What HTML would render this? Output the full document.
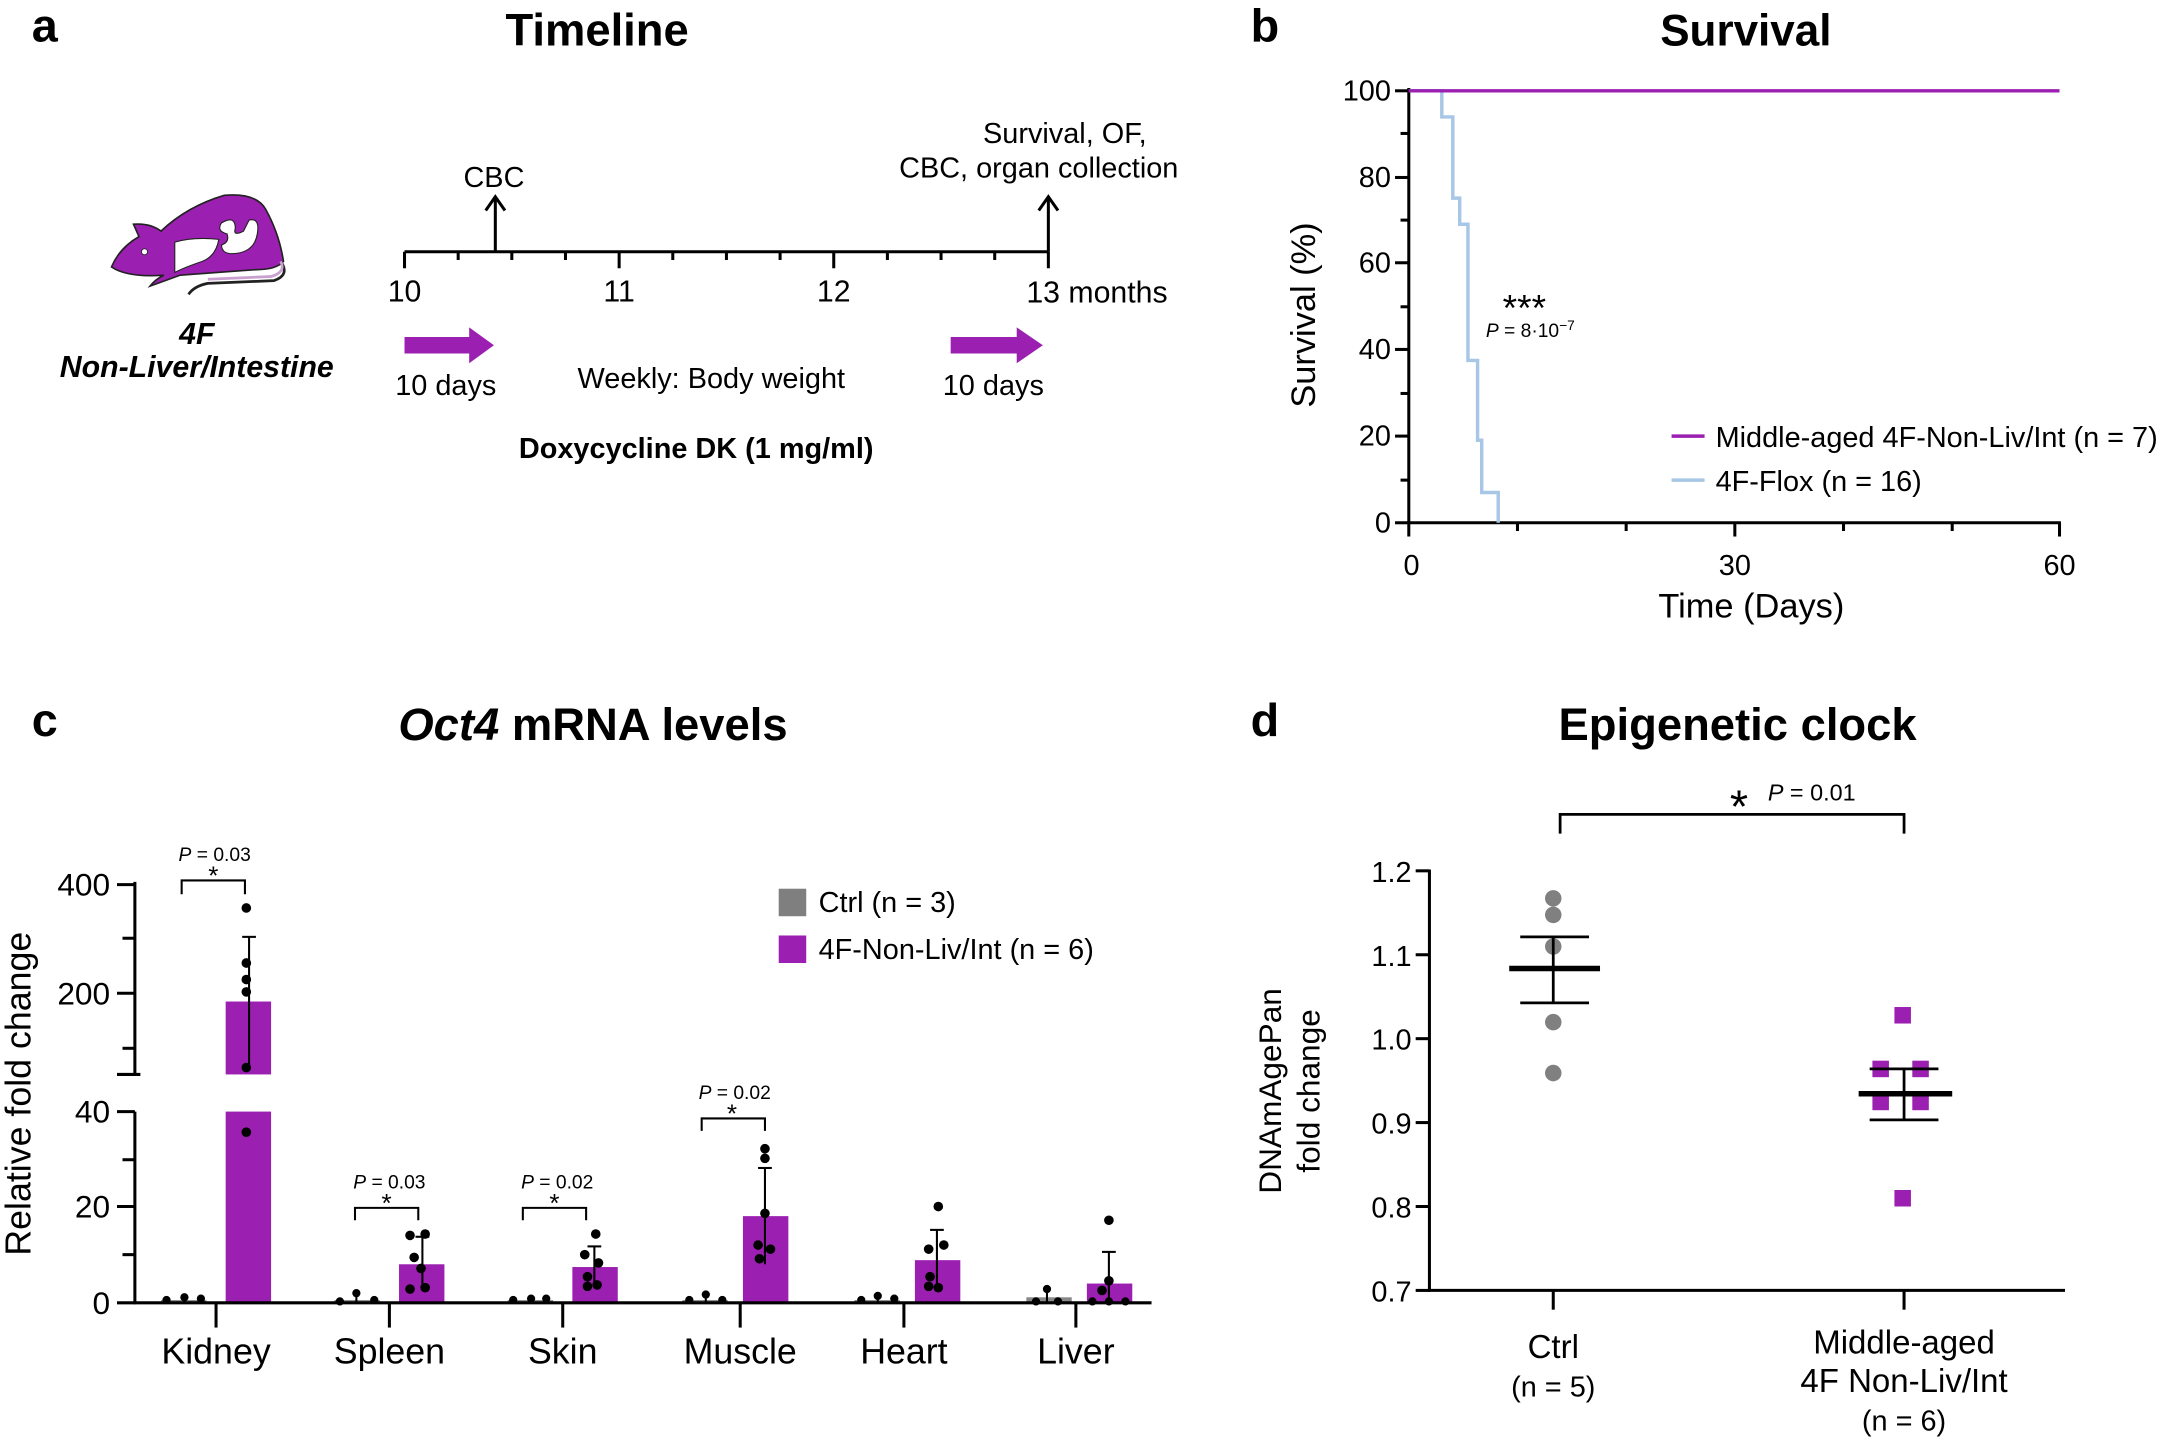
<!DOCTYPE html>
<html><head><meta charset="utf-8"><style>html,body{margin:0;padding:0;background:#fff}svg{display:block}</style></head>
<body>
<svg xmlns="http://www.w3.org/2000/svg" width="2160" height="1439" viewBox="0 0 1568 1046" font-family="Liberation Sans, Arial, sans-serif">
<rect width="1568" height="1046" fill="#fff"/>
<!-- Panel a -->
<text x="22" y="30" font-size="34" font-weight="bold">a</text>
<text x="433" y="33" font-size="33" font-weight="bold" text-anchor="middle">Timeline</text>
<!-- mouse -->
<path d="M80,194 Q86,180 100,172 L96,163 Q108,162 116,168 Q135,150 162,142 Q185,140 192,152 Q202,170 205,190 Q200,196 185,196 L130,200 L108,208 Q112,203 118,200 Q92,202 80,194 Z" fill="#9b1fb0" stroke="#222" stroke-width="1.2"/>
<path d="M203,190 Q210,200 198,204 L150,206 Q140,208 136,214" fill="none" stroke="#222" stroke-width="2"/>
<path d="M203,190 Q207,198 196,201 L150,203" fill="none" stroke="#c9a0d0" stroke-width="2"/>
<path d="M126,176 Q140,172 158,174 Q156,186 146,190 Q134,194 126,198 Z" fill="#fff" stroke="#222" stroke-width="0.8"/>
<path d="M160,162 Q170,156 170,166 Q168,172 176,168 L180,160 Q188,158 186,170 Q184,182 172,184 Q160,186 160,178 Q166,176 164,170 Q156,168 160,162 Z" fill="#fff" stroke="#222" stroke-width="0.8"/>
<circle cx="104" cy="183" r="2.2" fill="#fff" stroke="#222" stroke-width="0.6"/>
<text x="142" y="250" font-size="22" font-weight="bold" font-style="italic" text-anchor="middle">4F</text>
<text x="142" y="274" font-size="22" font-weight="bold" font-style="italic" text-anchor="middle">Non-Liver/Intestine</text>
<!-- timeline axis -->
<g stroke="#000" stroke-width="2.2">
<line x1="293" y1="183" x2="761" y2="183"/>
<line x1="293" y1="183" x2="293" y2="195"/><line x1="449" y1="183" x2="449" y2="195"/><line x1="605" y1="183" x2="605" y2="195"/><line x1="761" y1="183" x2="761" y2="195"/>
<line x1="332" y1="183" x2="332" y2="189"/><line x1="371" y1="183" x2="371" y2="189"/><line x1="410" y1="183" x2="410" y2="189"/>
<line x1="488" y1="183" x2="488" y2="189"/><line x1="527" y1="183" x2="527" y2="189"/><line x1="566" y1="183" x2="566" y2="189"/>
<line x1="644" y1="183" x2="644" y2="189"/><line x1="683" y1="183" x2="683" y2="189"/><line x1="722" y1="183" x2="722" y2="189"/>
<line x1="359" y1="183" x2="359" y2="145"/><polyline points="352,153 359,143 366,153" fill="none"/>
<line x1="761" y1="183" x2="761" y2="145"/><polyline points="754,153 761,143 768,153" fill="none"/>
</g>
<g font-size="21">
<text x="358" y="136" text-anchor="middle">CBC</text>
<text x="773" y="104" text-anchor="middle">Survival, OF,</text>
<text x="754" y="129" text-anchor="middle">CBC, organ collection</text>
<text x="293" y="219" text-anchor="middle" font-size="22">10</text>
<text x="449" y="219" text-anchor="middle" font-size="22">11</text>
<text x="605" y="219" text-anchor="middle" font-size="22">12</text>
<text x="745" y="220" font-size="22">13 months</text>
<text x="323" y="287" text-anchor="middle">10 days</text>
<text x="721" y="287" text-anchor="middle">10 days</text>
<text x="516" y="282" text-anchor="middle">Weekly: Body weight</text>
<text x="505" y="333" text-anchor="middle" font-weight="bold">Doxycycline DK (1 mg/ml)</text>
</g>
<path d="M293,245 L340,245 L340,238 L358,251 L340,264 L340,257 L293,257 Z" fill="#9b1fb0"/>
<path d="M690,245 L738,245 L738,238 L757,251 L738,264 L738,257 L690,257 Z" fill="#9b1fb0"/>

<!-- Panel b -->
<text x="908" y="30" font-size="34" font-weight="bold">b</text>
<text x="1268" y="33" font-size="32" font-weight="bold" text-anchor="middle">Survival</text>
<g stroke="#000" stroke-width="2.2">
<line x1="1023" y1="64" x2="1023" y2="381"/>
<line x1="1022" y1="380" x2="1497" y2="380"/>
<line x1="1013" y1="66" x2="1023" y2="66"/><line x1="1013" y1="129" x2="1023" y2="129"/><line x1="1013" y1="191" x2="1023" y2="191"/><line x1="1013" y1="254" x2="1023" y2="254"/><line x1="1013" y1="317" x2="1023" y2="317"/><line x1="1013" y1="380" x2="1023" y2="380"/>
<line x1="1017" y1="97" x2="1023" y2="97"/><line x1="1017" y1="160" x2="1023" y2="160"/><line x1="1017" y1="223" x2="1023" y2="223"/><line x1="1017" y1="286" x2="1023" y2="286"/><line x1="1017" y1="349" x2="1023" y2="349"/>
<line x1="1023" y1="380" x2="1023" y2="390"/><line x1="1260" y1="380" x2="1260" y2="390"/><line x1="1496" y1="380" x2="1496" y2="390"/>
<line x1="1102" y1="380" x2="1102" y2="386"/><line x1="1181" y1="380" x2="1181" y2="386"/><line x1="1339" y1="380" x2="1339" y2="386"/><line x1="1418" y1="380" x2="1418" y2="386"/>
</g>
<g font-size="21" text-anchor="end">
<text x="1010" y="73">100</text><text x="1010" y="136">80</text><text x="1010" y="198">60</text><text x="1010" y="261">40</text><text x="1010" y="324">20</text><text x="1010" y="387">0</text>
</g>
<g font-size="21" text-anchor="middle">
<text x="1025" y="418">0</text><text x="1260" y="418">30</text><text x="1496" y="418">60</text>
</g>
<text x="1272" y="449" font-size="25" text-anchor="middle">Time (Days)</text>
<text transform="translate(955,229) rotate(-90)" font-size="25" text-anchor="middle">Survival (%)</text>
<polyline points="1023,66 1047,66 1047,85 1055,85 1055,144 1060,144 1060,163 1066,163 1066,262 1073,262 1073,320 1076,320 1076,358 1088,358 1088,380" fill="none" stroke="#a8c6e6" stroke-width="2.5"/>
<line x1="1023" y1="66" x2="1496" y2="66" stroke="#9b1fb0" stroke-width="2.5"/>
<text x="1107" y="233" font-size="27" text-anchor="middle">***</text>
<text x="1079" y="245" font-size="14"><tspan font-style="italic">P</tspan> = 8·10<tspan font-size="10" dy="-5">−7</tspan></text>
<line x1="1214" y1="317" x2="1238" y2="317" stroke="#9b1fb0" stroke-width="2.5"/>
<line x1="1214" y1="349" x2="1238" y2="349" stroke="#a8c6e6" stroke-width="2.5"/>
<text x="1246" y="325" font-size="21">Middle-aged 4F-Non-Liv/Int (n = 7)</text>
<text x="1246" y="357" font-size="21">4F-Flox (n = 16)</text>

<!-- Panel c -->
<text x="22" y="535" font-size="34" font-weight="bold">c</text>
<text x="430" y="538" font-size="33" text-anchor="middle"><tspan font-style="italic" font-weight="bold">Oct4</tspan><tspan font-weight="bold"> mRNA levels</tspan></text>
<text transform="translate(21,795) rotate(-90)" font-size="26" text-anchor="middle">Relative fold change</text>
<g fill="#9b1fb0">
<rect x="163" y="728" width="33" height="53"/>
<rect x="163" y="808" width="33" height="139"/>
<rect x="289" y="919" width="33" height="28"/>
<rect x="415" y="921" width="33" height="26"/>
<rect x="539" y="884" width="33" height="63"/>
<rect x="664" y="916" width="33" height="31"/>
<rect x="789" y="933" width="33" height="14"/>
</g>
<g fill="#888"><rect x="116" y="945" width="33" height="2"/><rect x="242" y="945" width="33" height="2"/><rect x="368" y="945" width="33" height="2"/><rect x="495" y="945" width="33" height="2"/><rect x="620" y="945" width="33" height="2"/><rect x="745" y="943" width="33" height="4"/></g>
<g stroke="#000" stroke-width="2.2">
<line x1="97" y1="641" x2="97" y2="782"/><line x1="97" y1="808" x2="97" y2="948"/>
<line x1="84" y1="643" x2="97" y2="643"/><line x1="84" y1="722" x2="97" y2="722"/><line x1="84" y1="781" x2="101" y2="781"/>
<line x1="88" y1="682" x2="97" y2="682"/><line x1="88" y1="762" x2="97" y2="762"/>
<line x1="84" y1="808" x2="97" y2="808"/><line x1="84" y1="877" x2="97" y2="877"/><line x1="84" y1="947" x2="97" y2="947"/>
<line x1="88" y1="843" x2="97" y2="843"/><line x1="88" y1="912" x2="97" y2="912"/>
<line x1="96" y1="947" x2="836" y2="947"/>
<line x1="156" y1="947" x2="156" y2="965"/><line x1="282" y1="947" x2="282" y2="965"/><line x1="408" y1="947" x2="408" y2="965"/><line x1="537" y1="947" x2="537" y2="965"/><line x1="656" y1="947" x2="656" y2="965"/><line x1="781" y1="947" x2="781" y2="965"/>
</g>
<g font-size="23" text-anchor="end"><text x="79" y="651">400</text><text x="79" y="730">200</text><text x="79" y="816">40</text><text x="79" y="885">20</text><text x="79" y="955">0</text></g>
<g font-size="26" text-anchor="middle"><text x="156" y="991">Kidney</text><text x="282" y="991">Spleen</text><text x="408" y="991">Skin</text><text x="537" y="991">Muscle</text><text x="656" y="991">Heart</text><text x="781" y="991">Liver</text></g>
<g stroke="#000" stroke-width="1.5" fill="none">
<line x1="180" y1="681" x2="180" y2="775"/><line x1="175" y1="681" x2="185" y2="681"/>
<line x1="306" y1="899" x2="306" y2="937"/><line x1="301" y1="899" x2="311" y2="899"/>
<line x1="431" y1="906" x2="431" y2="935"/><line x1="426" y1="906" x2="436" y2="906"/>
<line x1="555" y1="849" x2="555" y2="919"/><line x1="550" y1="849" x2="560" y2="849"/>
<line x1="680" y1="894" x2="680" y2="939"/><line x1="675" y1="894" x2="685" y2="894"/>
<line x1="805" y1="910" x2="805" y2="946"/><line x1="800" y1="910" x2="810" y2="910"/>
<line x1="133" y1="943" x2="133" y2="947"/><line x1="258" y1="940" x2="258" y2="947"/><line x1="385" y1="942" x2="385" y2="947"/><line x1="512" y1="940" x2="512" y2="947"/><line x1="637" y1="941" x2="637" y2="947"/><line x1="760" y1="936" x2="760" y2="947"/>
<path d="M131,650 V640 H177 V650"/><path d="M257,887 V878 H303 V887"/><path d="M379,887 V878 H425 V887"/><path d="M509,822 V813 H555 V822"/>
</g>
<g fill="#000">
<circle cx="178" cy="660" r="3.5"/><circle cx="178" cy="700" r="3.5"/><circle cx="178" cy="712" r="3.5"/><circle cx="178" cy="721" r="3.5"/><circle cx="178" cy="776" r="3.5"/><circle cx="178" cy="823" r="3.5"/>
<circle cx="120" cy="945" r="3"/><circle cx="133" cy="943" r="3"/><circle cx="145" cy="944" r="3"/>
<circle cx="246" cy="946" r="3"/><circle cx="258" cy="940" r="3"/><circle cx="271" cy="945" r="3"/>
<circle cx="297" cy="898" r="3.5"/><circle cx="308" cy="897" r="3.5"/><circle cx="300" cy="914" r="3.5"/><circle cx="305" cy="922" r="3.5"/><circle cx="297" cy="937" r="3.5"/><circle cx="308" cy="936" r="3.5"/>
<circle cx="372" cy="945" r="3"/><circle cx="385" cy="944" r="3"/><circle cx="396" cy="944" r="3"/>
<circle cx="432" cy="897" r="3.5"/><circle cx="424" cy="912" r="3.5"/><circle cx="434" cy="918" r="3.5"/><circle cx="426" cy="928" r="3.5"/><circle cx="433" cy="934" r="3.5"/><circle cx="426" cy="935" r="3.5"/>
<circle cx="500" cy="945" r="3"/><circle cx="512" cy="941" r="3"/><circle cx="524" cy="945" r="3"/>
<circle cx="555" cy="835" r="3.5"/><circle cx="555" cy="842" r="3.5"/><circle cx="555" cy="882" r="3.5"/><circle cx="550" cy="905" r="3.5"/><circle cx="559" cy="908" r="3.5"/><circle cx="551" cy="915" r="3.5"/>
<circle cx="625" cy="945" r="3"/><circle cx="637" cy="942" r="3"/><circle cx="649" cy="944" r="3"/>
<circle cx="681" cy="877" r="3.5"/><circle cx="674" cy="908" r="3.5"/><circle cx="685" cy="905" r="3.5"/><circle cx="675" cy="928" r="3.5"/><circle cx="681" cy="936" r="3.5"/><circle cx="674" cy="935" r="3.5"/>
<circle cx="760" cy="937" r="3"/><circle cx="752" cy="946" r="3"/><circle cx="768" cy="946" r="3"/>
<circle cx="805" cy="887" r="3.5"/><circle cx="805" cy="931" r="3.5"/><circle cx="800" cy="938" r="3.5"/><circle cx="793" cy="946" r="3"/><circle cx="805" cy="946" r="3"/><circle cx="817" cy="946" r="3"/>
</g>
<g font-size="14" text-anchor="middle">
<text x="155" y="626"><tspan font-style="italic">P</tspan> = 0.03</text><text x="154" y="643" font-size="19">*</text>
<text x="282" y="864"><tspan font-style="italic">P</tspan> = 0.03</text><text x="280" y="881" font-size="19">*</text>
<text x="404" y="864"><tspan font-style="italic">P</tspan> = 0.02</text><text x="402" y="881" font-size="19">*</text>
<text x="533" y="799"><tspan font-style="italic">P</tspan> = 0.02</text><text x="531" y="816" font-size="19">*</text>
</g>
<rect x="565" y="646" width="20" height="20" fill="#7f7f7f"/>
<rect x="565" y="680" width="20" height="20" fill="#9b1fb0"/>
<text x="594" y="663" font-size="21">Ctrl (n = 3)</text>
<text x="594" y="697" font-size="21">4F-Non-Liv/Int (n = 6)</text>

<!-- Panel d -->
<text x="908" y="535" font-size="34" font-weight="bold">d</text>
<text x="1262" y="538" font-size="33" font-weight="bold" text-anchor="middle">Epigenetic clock</text>
<text transform="translate(930,793) rotate(-90)" font-size="23" text-anchor="middle">DNAmAgePan</text>
<text transform="translate(958,793) rotate(-90)" font-size="23" text-anchor="middle">fold change</text>
<g stroke="#000" stroke-width="2.2">
<line x1="1038" y1="632" x2="1038" y2="939"/><line x1="1037" y1="938" x2="1500" y2="938"/>
<line x1="1028" y1="633" x2="1038" y2="633"/><line x1="1028" y1="694" x2="1038" y2="694"/><line x1="1028" y1="755" x2="1038" y2="755"/><line x1="1028" y1="816" x2="1038" y2="816"/><line x1="1028" y1="877" x2="1038" y2="877"/><line x1="1028" y1="938" x2="1038" y2="938"/>
<line x1="1128" y1="938" x2="1128" y2="952"/><line x1="1383" y1="938" x2="1383" y2="952"/>
</g>
<g font-size="21" text-anchor="end"><text x="1025" y="641">1.2</text><text x="1025" y="702">1.1</text><text x="1025" y="763">1.0</text><text x="1025" y="824">0.9</text><text x="1025" y="885">0.8</text><text x="1025" y="946">0.7</text></g>
<g fill="#808080"><circle cx="1128" cy="653" r="6"/><circle cx="1128" cy="665" r="6"/><circle cx="1128" cy="688" r="6"/><circle cx="1128" cy="743" r="6"/><circle cx="1128" cy="780" r="6"/></g>
<g fill="#9b1fb0"><rect x="1376" y="732" width="12" height="12"/><rect x="1360" y="771" width="12" height="12"/><rect x="1389" y="771" width="12" height="12"/><rect x="1360" y="795" width="12" height="12"/><rect x="1389" y="795" width="12" height="12"/><rect x="1376" y="865" width="12" height="12"/></g>
<g stroke="#000" fill="none">
<line x1="1096" y1="704" x2="1162" y2="704" stroke-width="4"/>
<line x1="1128" y1="681" x2="1128" y2="729" stroke-width="2"/><line x1="1104" y1="681" x2="1154" y2="681" stroke-width="2"/><line x1="1104" y1="729" x2="1154" y2="729" stroke-width="2"/>
<line x1="1350" y1="795" x2="1418" y2="795" stroke-width="4"/>
<line x1="1383" y1="777" x2="1383" y2="814" stroke-width="2"/><line x1="1358" y1="777" x2="1408" y2="777" stroke-width="2"/><line x1="1358" y1="814" x2="1408" y2="814" stroke-width="2"/>
<path d="M1133,606 V592 H1383 V606" stroke-width="2"/>
</g>
<text x="1263" y="598" font-size="34" text-anchor="middle">*</text>
<text x="1284" y="582" font-size="17"><tspan font-style="italic">P</tspan> = 0.01</text>
<g font-size="24" text-anchor="middle">
<text x="1128" y="987">Ctrl</text><text x="1128" y="1015" font-size="21">(n = 5)</text>
<text x="1383" y="984">Middle-aged</text><text x="1383" y="1012">4F Non-Liv/Int</text><text x="1383" y="1040" font-size="21">(n = 6)</text>
</g>
</svg>
</body></html>
